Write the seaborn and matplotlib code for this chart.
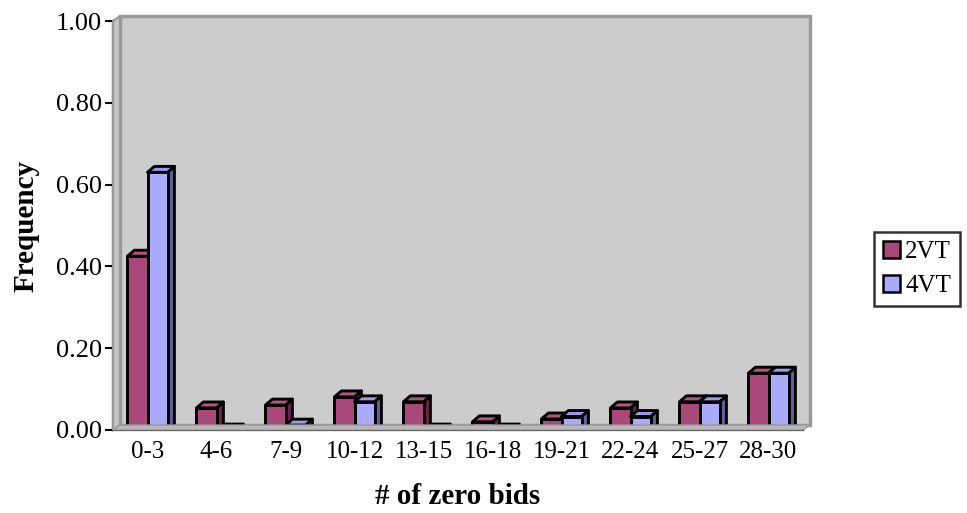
import matplotlib
matplotlib.use("Agg")
import matplotlib.pyplot as plt
import seaborn as sns
import pandas as pd
from matplotlib.patches import Polygon, Rectangle, Patch
import matplotlib.transforms as mtransforms

# ---- data ----
categories = ["0-3", "4-6", "7-9", "10-12", "13-15", "16-18", "19-21", "22-24", "25-27", "28-30"]
vt2 = [0.425, 0.054, 0.061, 0.081, 0.069, 0.02, 0.027, 0.054, 0.069, 0.139]
vt4 = [0.63, 0.0, 0.012, 0.069, 0.0, 0.0, 0.033, 0.033, 0.069, 0.139]
series_names = ["2VT", "4VT"]
y_ticks = [0.0, 0.2, 0.4, 0.6, 0.8, 1.0]

front_colors = {"2VT": "#A9497A", "4VT": "#AAAAFF"}
side_colors = {"2VT": "#6E2449", "4VT": "#5F6399"}
top_colors = {"2VT": "#B4557F", "4VT": "#9A9AF0"}

df = pd.DataFrame({
    "cat": categories * 2,
    "val": vt2 + vt4,
    "series": [series_names[0]] * len(categories) + [series_names[1]] * len(categories),
})

sns.set_style("white")
plt.rcParams["font.family"] = ["Liberation Serif", "DejaVu Serif"]
plt.rcParams["text.color"] = "black"
plt.rcParams["axes.labelcolor"] = "black"
plt.rcParams["xtick.color"] = "black"
plt.rcParams["ytick.color"] = "black"

W, H = 967, 513
fig = plt.figure(figsize=(W / 100, H / 100), dpi=100)
ax = fig.add_axes([113 / W, 1 - 430 / H, (803 - 113) / W, (430 - 21) / H])
ax.set_facecolor("none")

n = len(categories)
lw_bar = 2.1
sns.barplot(data=df, x="cat", y="val", hue="series", order=categories,
            hue_order=series_names, palette=front_colors, width=0.58, saturation=1,
            edgecolor="black", linewidth=lw_bar, ax=ax, legend=False,
            errorbar=None)
bars = list(ax.patches)

# 3D-like depth offsets in pixels for the walls
dpx, dpy = 7, 5
back = mtransforms.offset_copy(ax.transAxes, fig=fig, x=dpx, y=dpy, units="dots")
ax.add_patch(Rectangle((0, 0), 1, 1, transform=back, facecolor="#CCCCCC",
                       edgecolor="#999999", lw=2.5, zorder=0, clip_on=False))
fig.canvas.draw()
tr = ax.transAxes
inv = fig.transFigure.inverted()
p0 = tr.transform((0, 0)); p1 = tr.transform((0, 1)); q1 = tr.transform((1, 0))
side = [inv.transform(p0), inv.transform((p0[0] + dpx, p0[1] + dpy)),
        inv.transform((p1[0] + dpx, p1[1] + dpy)), inv.transform(p1)]
fig.patches.append(Polygon(side, closed=True, transform=fig.transFigure,
                           facecolor="#C4C4C4", edgecolor="#999999", lw=1.5, zorder=0))
floor = [inv.transform(p0), inv.transform(q1), inv.transform((q1[0] + dpx, q1[1] + dpy)),
         inv.transform((p0[0] + dpx, p0[1] + dpy))]
fig.patches.append(Polygon(floor, closed=True, transform=fig.transFigure,
                           facecolor="#B8B8B8", edgecolor="#999999", lw=1.0, zorder=0))

# add top and side faces for a 3D look
dx = 0.1
dy = 0.0145
for i, patch in enumerate(bars[:2 * n]):
    s = series_names[i // n]
    z = 2 if s == "2VT" else 4
    x0 = patch.get_x(); w = patch.get_width(); h = patch.get_height()
    top = [(x0, h), (x0 + dx, h + dy), (x0 + w + dx, h + dy), (x0 + w, h)]
    sidep = [(x0 + w, 0), (x0 + w + dx, dy), (x0 + w + dx, h + dy), (x0 + w, h)]
    ax.add_patch(Polygon(sidep, closed=True, facecolor=side_colors[s],
                         edgecolor="black", lw=lw_bar, joinstyle="round", zorder=z))
    ax.add_patch(Polygon(top, closed=True, facecolor=top_colors[s],
                         edgecolor="black", lw=lw_bar, joinstyle="round", zorder=z))
    patch.set_zorder(z + 0.5)
    patch.set_joinstyle("round")

ax.set_xlim(-0.5, n - 0.5)
ax.set_ylim(0, 1.0)
ax.set_yticks(y_ticks)
ax.set_yticklabels([f"{t:.2f}" for t in y_ticks], fontsize=19)
ax.set_xticks(range(n))
ax.set_xticklabels(categories, fontsize=18)
ax.set_xticks([k - 0.5 for k in range(n + 1)], minor=True)
ax.tick_params(axis="x", which="major", length=0, pad=8)
ax.tick_params(axis="x", which="minor", length=7, width=1.5, color="black", direction="out")
ax.tick_params(axis="y", length=6, width=1.5, color="black", direction="out", pad=2, left=True)

for sp in ["top", "right"]:
    ax.spines[sp].set_visible(False)
for sp in ["left", "bottom"]:
    ax.spines[sp].set_color("black")
    ax.spines[sp].set_linewidth(1.6)
    ax.spines[sp].set_zorder(8)

ax.set_xlabel("# of zero bids", fontsize=21, fontweight="bold", labelpad=14, color="black")
ax.set_ylabel("Frequency", fontsize=21, fontweight="bold", labelpad=12, color="black")

handles = [Patch(facecolor=front_colors[s], edgecolor="black", lw=1.8, label=s) for s in series_names]
leg = fig.legend(handles=handles, loc="upper left", bbox_to_anchor=(874 / W, 1 - 232 / H),
                 bbox_transform=fig.transFigure, frameon=True, fancybox=False,
                 fontsize=18, handlelength=0.7, handleheight=0.7, handletextpad=0.2,
                 borderpad=0.35, labelspacing=0.45, borderaxespad=0)
leg.get_frame().set_edgecolor("black")
leg.get_frame().set_linewidth(1.8)
for t in leg.get_texts():
    t.set_color("black")

fig.savefig("out.png", dpi=100, facecolor="white")
